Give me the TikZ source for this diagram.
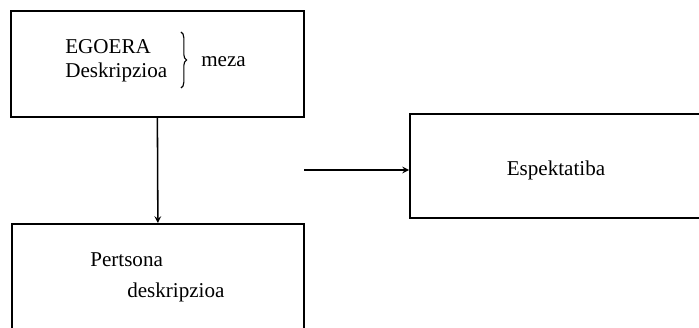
\documentclass[tikz,border=0pt]{standalone}
\usepackage{fontspec}
\setmainfont{Liberation Serif}
\usepackage{tikz}
\usetikzlibrary{arrows,positioning,decorations.pathreplacing}
\tikzstyle{box}=[draw,line width=1.2pt,anchor=north west,inner sep=0pt]
\tikzstyle{label}=[inner sep=0pt,font=\fontsize{15}{18}\selectfont]
\tikzstyle{arrow} = [draw,line width=1.1pt,-stealth]

\begin{document}
\begin{tikzpicture}[x=0.025cm,y=-0.025cm]
      \useasboundingbox (0,0) rectangle (699,328);
      \clip (0,0) rectangle (699,328);
      \node[box,minimum width=7.325cm,minimum height=2.65cm] (egoera) at (10,10) {};
      \node[box,minimum width=7.3cm,minimum height=3.5cm] (pertsona) at (11,223) {};
      \node[box,minimum width=8cm,minimum height=2.6cm] (espek) at (409,113) {};

      \node[label,anchor=west] (eg1) at (65,47) {EGOERA};
      \node[label,anchor=west] (eg2) at (65,72) {Deskripzioa};
      \node[label,anchor=west] (meza) at (201,62) {meza};
      \draw[line width=0.8pt,decorate,decoration={brace,amplitude=4pt}] (181,32) -- (181,88);
      \node[label,anchor=west] (pe1) at (90,260) {Pertsona};
      \node[label,anchor=west] (pe2) at (127,292) {deskripzioa};
      \node[label] (es) at (556,170) {Espektatiba};

      \coordinate (from) at (304,170);
      \path[arrow] (egoera.south) -- (pertsona.north);
      \path[arrow] (from) -- (espek.west |- from);

    \end{tikzpicture}
\end{document}
